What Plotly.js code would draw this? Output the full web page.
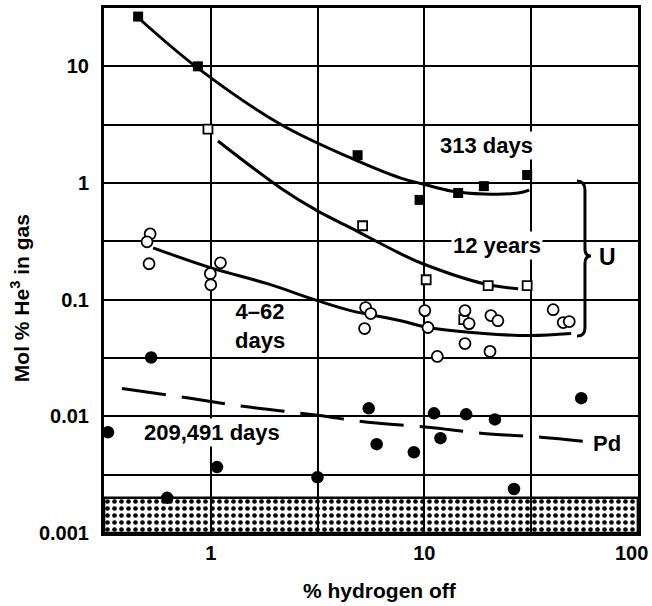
<!DOCTYPE html>
<html>
<head>
<meta charset="utf-8">
<script src="https://cdn.plot.ly/plotly-3.0.1.min.js"></script>
<style>html,body{margin:0;padding:0;background:#fff;}#chart{width:652px;height:606px;}</style>
</head>
<body>
<div id="chart"></div>
<script>
// ---- Data ----
// 313 days (filled squares) and fitted curve
var sq313_x = [0.457, 0.87, 4.87, 9.5, 14.4, 19.0, 30.3];
var sq313_y = [26.7, 10.0, 1.73, 0.716, 0.82, 0.94, 1.17];
var curve313_x = [0.467, 0.873, 2.12, 4.52, 7.76, 9.84, 13.3, 19.0, 27.5, 31.0];
var curve313_y = [25.2, 9.6, 3.19, 1.64, 1.10, 0.98, 0.855, 0.805, 0.82, 0.87];

// 12 years (open squares) and curve
var sq12_x = [0.97, 5.14, 10.2, 15.3, 19.9, 30.3];
var sq12_y = [2.9, 0.43, 0.148, 0.0675, 0.132, 0.132];
var curve12_x = [1.08, 2.12, 3.16, 4.52, 7.76, 9.84, 19.0, 27.5];
var curve12_y = [2.29, 0.906, 0.576, 0.412, 0.247, 0.203, 0.137, 0.124];

// 4-62 days (open circles) and curve
var circ462_x = [0.52, 0.503, 0.514, 1.11, 0.995, 1.0, 5.31, 5.61, 5.25, 10.05, 10.4, 11.5, 15.5, 16.2, 15.5, 20.5, 22.1, 20.3, 40.1, 44.7, 47.7];
var circ462_y = [0.366, 0.313, 0.203, 0.207, 0.167, 0.134, 0.0855, 0.076, 0.0565, 0.0805, 0.0577, 0.0326, 0.0805, 0.0623, 0.042, 0.073, 0.066, 0.036, 0.082, 0.0636, 0.0649];
var curve462_x = [0.537, 0.995, 1.84, 3.16, 4.52, 7.76, 10.4, 19.0, 31.6, 48.7];
var curve462_y = [0.278, 0.188, 0.137, 0.098, 0.0805, 0.066, 0.0577, 0.0512, 0.0492, 0.0512];

// 209,491 days (filled circles)
var dot_x = [0.526, 0.33, 1.07, 0.625, 3.16, 5.49, 5.98, 8.93, 11.1, 11.9, 15.7, 21.4, 26.3, 54.3];
var dot_y = [0.0319, 0.0073, 0.00367, 0.0020, 0.0030, 0.0117, 0.00577, 0.00492, 0.0106, 0.00649, 0.0104, 0.0094, 0.00238, 0.0143];

// Pd dashed curve
var pd_x = [0.384, 0.801, 1.42, 3.16, 5.43, 10.4, 18.4, 35.2, 55.5];
var pd_y = [0.0173, 0.01425, 0.01217, 0.0102, 0.00889, 0.00805, 0.00716, 0.00662, 0.00611];

// Detection-limit band (stippled)
var band_x = [0.3162, 100, 100, 0.3162, 0.3162];
var band_y = [0.001, 0.001, 0.002, 0.002, 0.001];

// Axis ticks (labels at decades, extra grid at half decades)
var xTickVals = [1, 10];
var xTickText = ['1', '10'];
var xEndTick = 100;            // last label, nudged inside the page like the original
var xEndText = '100';
var xHalfDecades = [3.162, 31.62];
var yTickVals = [0.001, 0.01, 0.1, 1, 10];
var yTickText = ['0.001', '0.01', '0.1', '1', '10'];
var yHalfDecades = [0.003162, 0.03162, 0.3162, 3.162];

var FONT = 'Liberation Sans, Arial, Helvetica, sans-serif';

var traces = [
  {x: band_x, y: band_y, mode: 'lines', fill: 'toself', fillcolor: 'rgba(0,0,0,0)',
   fillpattern: {shape: '.', size: 7, solidity: 0.35, fgcolor: '#000', bgcolor: 'rgba(0,0,0,0)'},
   line: {color: '#000', width: 2.5}, hoverinfo: 'skip', showlegend: false},
  {x: curve313_x, y: curve313_y, mode: 'lines', line: {color: '#000', width: 3, shape: 'spline', smoothing: 1}, showlegend: false},
  {x: curve12_x, y: curve12_y, mode: 'lines', line: {color: '#000', width: 3, shape: 'spline', smoothing: 1}, showlegend: false},
  {x: curve462_x, y: curve462_y, mode: 'lines', line: {color: '#000', width: 3, shape: 'spline', smoothing: 1}, showlegend: false},
  {x: pd_x, y: pd_y, mode: 'lines', line: {color: '#000', width: 3, dash: '44px,16px', shape: 'spline', smoothing: 1}, showlegend: false},
  {x: sq313_x, y: sq313_y, mode: 'markers', cliponaxis: false,
   marker: {symbol: 'square', size: 10, color: '#000'}, showlegend: false},
  {x: sq12_x, y: sq12_y, mode: 'markers', cliponaxis: false,
   marker: {symbol: 'square', size: 9, color: '#fff', line: {color: '#000', width: 1.8}}, showlegend: false},
  {x: circ462_x, y: circ462_y, mode: 'markers', cliponaxis: false,
   marker: {symbol: 'circle', size: 11, color: '#fff', line: {color: '#000', width: 1.8}}, showlegend: false},
  {x: dot_x, y: dot_y, mode: 'markers', cliponaxis: false,
   marker: {symbol: 'circle', size: 12.5, color: '#000'}, showlegend: false}
];

var annFont = {family: FONT, size: 22, color: '#000', weight: 'bold'};
function ann(text, x, y, bg, size) {
  var f = Object.assign({}, annFont);
  if (size) f.size = size;
  return {text: text, xref: 'paper', yref: 'paper', x: x, y: y, xanchor: 'center', yanchor: 'middle',
          showarrow: false, font: f, bgcolor: bg || 'rgba(0,0,0,0)', borderpad: 1};
}

var layout = {
  width: 652, height: 606,
  margin: {l: 104, r: 14, t: 8, b: 73},
  paper_bgcolor: '#fff', plot_bgcolor: '#fff',
  showlegend: false,
  font: {family: FONT, color: '#000'},
  xaxis: {
    type: 'log', range: [-0.5, 2.0005], tickvals: xTickVals, ticktext: xTickText,
    showgrid: true, gridcolor: '#000', gridwidth: 2, zeroline: false,
    minor: {tickvals: xHalfDecades, showgrid: true, gridcolor: '#000', gridwidth: 2, ticks: ''},
    showline: true, linecolor: '#000', linewidth: 3, mirror: true, ticks: '',
    ticklabelstandoff: 0,
    tickfont: {family: FONT, size: 20, color: '#000', weight: 'bold'}
  },
  yaxis: {
    type: 'log', range: [-3.0005, 1.5], tickvals: yTickVals, ticktext: yTickText,
    showgrid: true, gridcolor: '#000', gridwidth: 2, zeroline: false,
    minor: {tickvals: yHalfDecades, showgrid: true, gridcolor: '#000', gridwidth: 2, ticks: ''},
    showline: true, linecolor: '#000', linewidth: 3, mirror: true, ticks: '',
    ticklabelstandoff: 8,
    tickfont: {family: FONT, size: 20, color: '#000', weight: 'bold'}
  },
  annotations: [
    ann('313 days', 0.7154, 0.739, '#fff'),
    ann('12 years', 0.736, 0.5467, '#fff'),
    ann('U', 0.942, 0.5257, null, 23),
    ann('4\u201362<br>days', 0.292, 0.394, null),
    ann('209,491 days', 0.202, 0.192, '#fff'),
    ann('Pd', 0.942, 0.171, null),
    ann('% hydrogen off', 0.517, -0.1086, null, 21),
    Object.assign(ann('Mol % He<sup>3</sup> in gas', -0.157, 0.4476, null, 21), {textangle: -90}),
    {text: xEndText, xref: 'x', yref: 'paper', x: Math.log10(xEndTick), y: -0.038,
     xanchor: 'center', yanchor: 'middle', xshift: -6, showarrow: false,
     font: {family: FONT, size: 20, color: '#000', weight: 'bold'}}
  ],
  shapes: [
    {type: 'path', xref: 'paper', yref: 'paper',
     path: 'M 0.8858,0.6705 Q 0.9007,0.6705 0.9007,0.6533 L 0.9007,0.541 Q 0.9007,0.5276 0.912,0.5276 Q 0.9007,0.5276 0.9007,0.514 L 0.9007,0.3905 Q 0.9007,0.3752 0.8858,0.3752',
     line: {color: '#000', width: 3}}
  ]
};

Plotly.newPlot('chart', traces, layout, {staticPlot: true, displayModeBar: false});
</script>
</body>
</html>
